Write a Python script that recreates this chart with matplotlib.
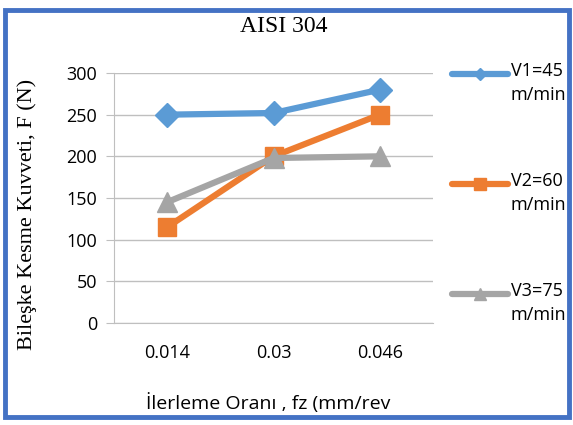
import matplotlib
matplotlib.use('Agg')
import matplotlib.pyplot as plt
from matplotlib.lines import Line2D
from matplotlib.patches import Rectangle

# Chart data
feed_labels = ['0.014', '0.03', '0.046']
v1_force = [250, 252, 280]
v2_force = [115, 200, 250]
v3_force = [145, 198, 200]
series_names = ['V1=45\nm/min', 'V2=60\nm/min', 'V3=75\nm/min']

blue = '#5B9BD5'
orange = '#ED7D31'
grey = '#A5A5A5'
sans = ['Open Sans', 'DejaVu Sans']
serif = ['Liberation Serif', 'DejaVu Serif']

W, H = 573, 425
fig = plt.figure(figsize=(W / 100, H / 100), dpi=100)
ax = fig.add_axes([114 / W, 1 - 323 / H, (433 - 114) / W, (323 - 73) / H])

x = list(range(len(feed_labels)))
ax.plot(x, v1_force, color=blue, lw=4.5, marker='D', ms=12, zorder=3)
ax.plot(x, v2_force, color=orange, lw=4.5, marker='s', ms=13, zorder=4)
ax.plot(x, v3_force, color=grey, lw=4.5, marker='^', ms=14, zorder=5)

ax.set_xlim(-0.5, 2.5)
ax.set_ylim(0, 300)
ax.set_yticks(range(0, 301, 50))
ax.set_xticks(x)
ax.set_xticklabels(feed_labels)
ax.grid(axis='y', color='#BFBFBF', lw=1)
ax.set_axisbelow(True)
for side in ['top', 'right']:
    ax.spines[side].set_visible(False)
ax.spines['left'].set_color('#BFBFBF')
ax.spines['bottom'].set_color('#BFBFBF')
ax.tick_params(axis='y', length=6, color='#BFBFBF', labelsize=13, pad=6)
ax.tick_params(axis='x', length=0, labelsize=13, pad=15)
for lab in ax.get_xticklabels() + ax.get_yticklabels():
    lab.set_family(sans)

fig.text(284 / W, 1 - 27 / H, 'AISI 304', ha='center', va='center',
         fontsize=17, family=serif)
fig.text(27 / W, 1 - 214 / H, 'Bileşke Kesme Kuvveti, F (N)', rotation=90,
         ha='center', va='center', fontsize=16, family=serif)
fig.text(268 / W, 1 - 403 / H, 'İlerleme Oranı , fz (mm/rev', ha='center',
         va='center', fontsize=14, family=sans)

# Legend, drawn by hand so the handle sits on the first text line
styles = [(blue, 'D', 6), (orange, 's', 9), (grey, '^', 9)]
legend_y = [74, 184, 294]
for name, (c, m, s), y in zip(series_names, styles, legend_y):
    yy = 1 - y / H
    fig.add_artist(Line2D([452 / W, 508 / W], [yy, yy], color=c, lw=4.5,
                          solid_capstyle='round',
                          transform=fig.transFigure))
    fig.add_artist(Line2D([480 / W], [yy], color=c, marker=m, ms=s,
                          transform=fig.transFigure))
    fig.text(511 / W, yy + 12 / H, name, ha='left', va='top', fontsize=13,
             family=sans, linespacing=1.4)

# blue frame around the chart
fig.add_artist(Rectangle((5 / W, 8 / H), 564 / W, 407 / H, fill=False,
                         edgecolor='#4472C4', lw=3.5, transform=fig.transFigure))

plt.savefig('out.png', dpi=100)
